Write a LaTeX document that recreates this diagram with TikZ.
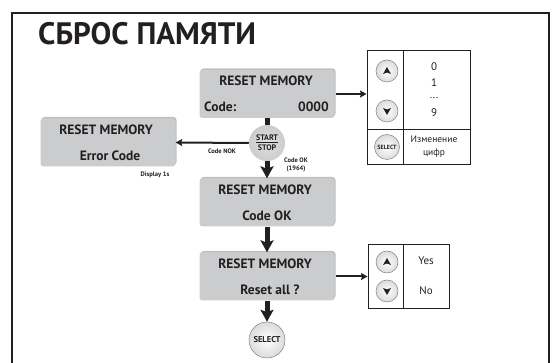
\documentclass[tikz,border=0pt]{standalone}
\usepackage{fontspec}
\setmainfont{PT Sans}
\usepackage{tikz}
\usetikzlibrary{arrows.meta,shadows}

\definecolor{lcdgray}{HTML}{CBCCCE}
\definecolor{inkgray}{HTML}{231F20}

\tikzset{
  lcdbox/.style={fill=lcdgray, rounded corners=3, minimum width=135, minimum height=48, inner sep=0,
    drop shadow={shadow xshift=1, shadow yshift=-1.5, opacity=0.25, fill=black}},
  lcdtext/.style={font=\fontsize{13.5}{13.5}\selectfont\bfseries, text=inkgray, inner sep=0},
  roundkey/.style={circle, draw=gray, line width=0.5, inner color=white, outer color=lcdgray!70, inner sep=0, text=inkgray},
  tabbox/.style={draw=inkgray, line width=1, inner sep=0},
  tabtext/.style={font=\fontsize{11}{12}\selectfont, text=inkgray, inner sep=0},
  smalltext/.style={font=\fontsize{6.5}{7.5}\selectfont\bfseries, text=inkgray, inner sep=0, align=center},
  bigarrow/.style={draw=inkgray, line width=5, -{Stealth[length=12, width=13, inset=2.5]}},
  thinarrow/.style={draw=inkgray, line width=2, -{Stealth[length=6.5, width=7, inset=1]}},
}

\begin{document}
\begin{tikzpicture}[x=1pt,y=-1pt]
\useasboundingbox (0,0) rectangle (552,363);
\draw[inkgray,line width=2] (12,363) -- (12,13) -- (549,13) -- (549,363);
\node[font=\fontsize{31}{31}\selectfont\bfseries, text=inkgray, inner sep=0, anchor=west] (title) at (38,34) {СБРОС ПАМЯТИ};

% screens
\node[lcdbox] (lcdcode) at (267,94) {};
\node[lcdbox] (lcderror) at (108,142.5) {};
\node[lcdbox] (lcdok) at (267,202.5) {};
\node[lcdbox] (lcdreset) at (267,276.5) {};
\node[lcdtext] (codetitle) at (266,81) {RESET MEMORY};
\node[lcdtext, anchor=west] (codeleft) at (204,107) {Code:};
\node[lcdtext, anchor=east] (coderight) at (329,107) {0000};
\node[lcdtext] (errortitle) at (106,130) {RESET MEMORY};
\node[lcdtext] (errorcode) at (110,156) {Error Code};
\node[lcdtext] (oktitle) at (265,190) {RESET MEMORY};
\node[lcdtext] (okcode) at (267,216) {Code OK};
\node[lcdtext] (resettitle) at (265,264) {RESET MEMORY};
\node[lcdtext] (resetall) at (270,290) {Reset all ?};

% keys on the flow
\node[roundkey, minimum size=36, font=\fontsize{8}{10}\selectfont\bfseries, align=center, inner color=lcdgray!60, outer color=lcdgray, draw=none] (startstop) at (267,143) {\underline{START}\\STOP};
\node[roundkey, minimum size=36, font=\fontsize{8.5}{8}\selectfont\bfseries] (selectkey) at (267,340) {SELECT};

% tables
\node[tabbox, minimum width=103, minimum height=114] (tabcode) at (418.5,108) {};
\draw[inkgray,line width=1] (403,51) -- (403,165);
\draw[inkgray,line width=1] (367,130) -- (470,130);
\node[tabbox, minimum width=81, minimum height=64] (tabreset) at (408.5,277) {};
\draw[inkgray,line width=1] (403,245) -- (403,309);

\foreach \name/\posx/\posy in {upa/387/71, downa/387/111, upb/387/262, downb/387/291}
  \node[roundkey, minimum size=22] (\name) at (\posx,\posy) {};
\foreach \name in {upa, upb}
  \fill[inkgray] ([yshift=4]\name.center) -- ([xshift=4,yshift=-3]\name.center) -- ([yshift=-1.5]\name.center) -- ([xshift=-4,yshift=-3]\name.center) -- cycle;
\foreach \name in {downa, downb}
  \fill[inkgray] ([yshift=-4]\name.center) -- ([xshift=4,yshift=3]\name.center) -- ([yshift=1.5]\name.center) -- ([xshift=-4,yshift=3]\name.center) -- cycle;
\node[roundkey, minimum size=25, font=\fontsize{6}{6}\selectfont\bfseries] (selectsmall) at (387,147) {SELECT};

\node[tabtext] (digita) at (434,67) {0};
\node[tabtext] (digitb) at (434,83) {1};
\node[tabtext] (digitdots) at (434,98) {...};
\node[tabtext] (digitc) at (434,113) {9};
\node[tabtext, font=\fontsize{9.5}{13}\selectfont, align=center] (change) at (434,147) {Изменение\\цифр};
\node[tabtext] (yes) at (426,261) {Yes};
\node[tabtext] (no) at (426,291) {No};

\node[smalltext] (codenok) at (222,151) {Code NOK};
\node[smalltext] (display) at (155,175) {Display 1s};
\node[smalltext] (codeok) at (296,165) {Code OK\\(1964)};

% connectors
\draw[inkgray,line width=5] (lcdcode.south) -- (startstop.north);
\draw[bigarrow] (startstop.south) -- (lcdok.north);
\draw[bigarrow] (lcdok.south) -- (lcdreset.north);
\draw[bigarrow] (lcdreset.south) -- (selectkey.north);
\draw[thinarrow] (startstop.west) -- (lcderror.east);
\draw[thinarrow, shorten <=1.5] (lcdcode.east) -- (lcdcode.east -| tabcode.west);
\draw[thinarrow, shorten <=1.5] (lcdreset.east) -- (lcdreset.east -| tabreset.west);
\end{tikzpicture}
\end{document}
